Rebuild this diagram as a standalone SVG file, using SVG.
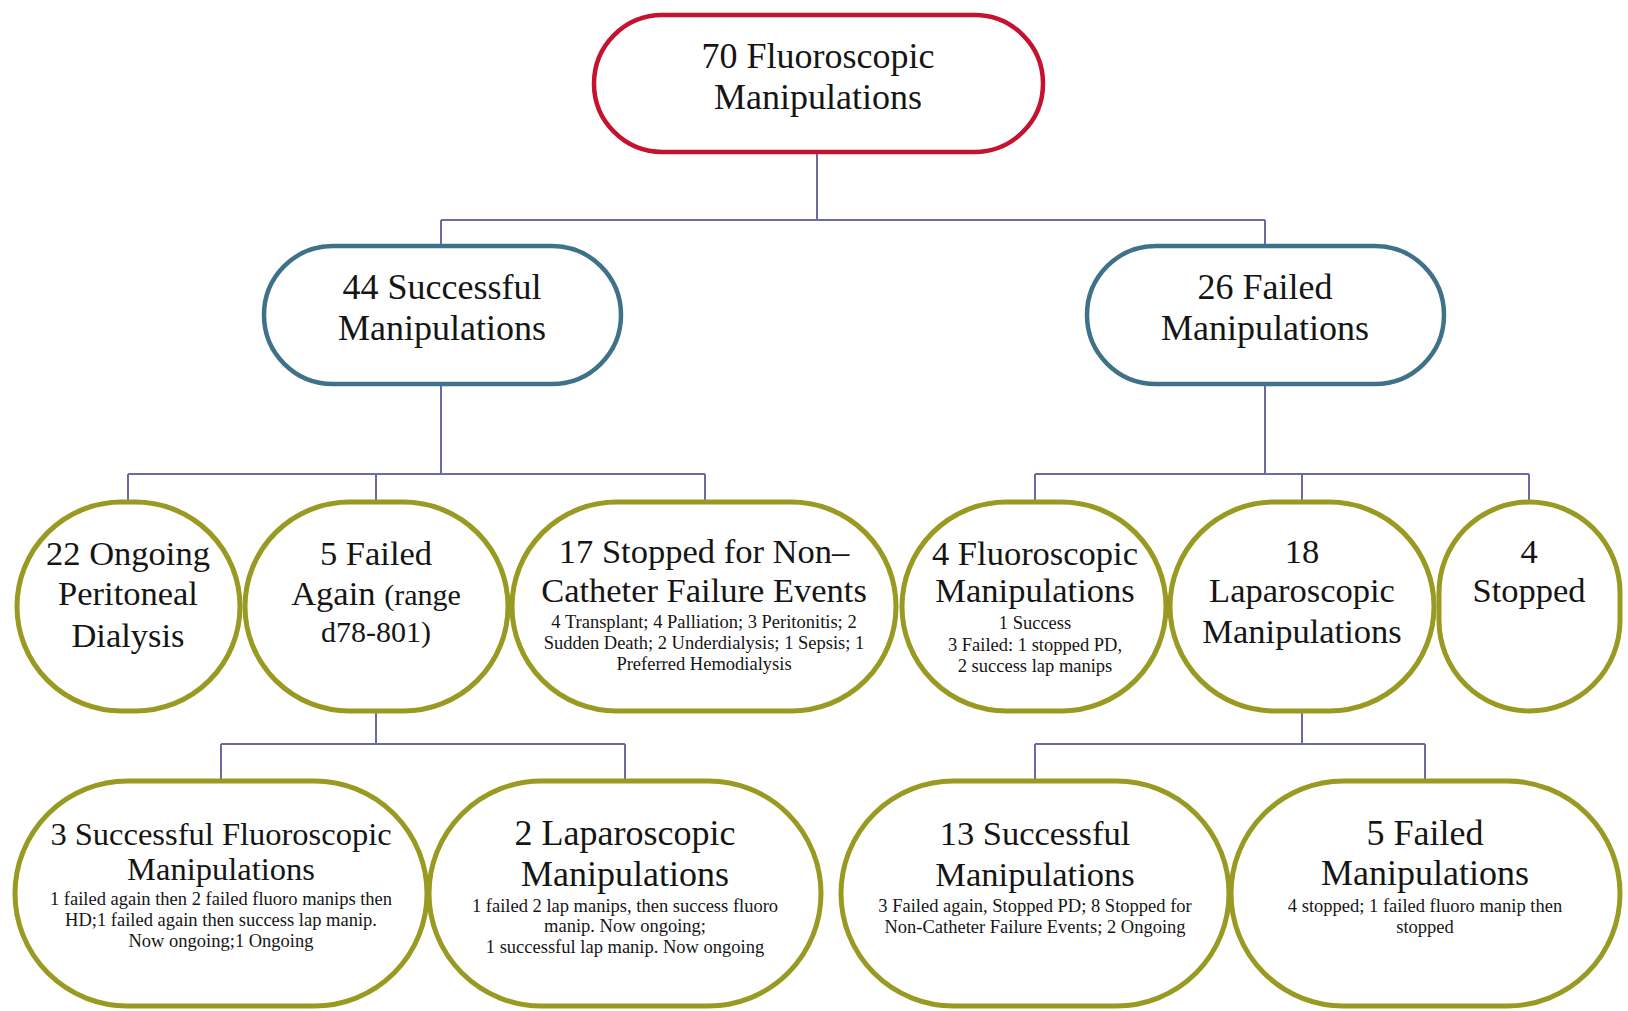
<svg xmlns="http://www.w3.org/2000/svg" width="1628" height="1011" viewBox="0 0 1628 1011">
<style>
.bg{fill:#ffffff}
.n{fill:#ffffff}
.red{stroke:#c4122f;stroke-width:4.5}
.teal{stroke:#3f7288;stroke-width:4.5}
.olive{stroke:#999a22;stroke-width:5}
.c{fill:none;stroke:#6a6aa8;stroke-width:2}
text{font-family:"Liberation Serif","Times New Roman",serif;fill:#151515;text-anchor:middle}
.b{font-size:36px}
.m{font-size:34.5px}
.r{font-size:30px}
.s{font-size:18.5px}
</style>
<rect class="bg" x="0" y="0" width="1628" height="1011"/>
<g id="connectors">
<path class="c" d="M817,154 V220 M441,220 H1265 M441,220 V246 M1265,220 V246"/>
<path class="c" d="M441,386 V474 M128,474 H705 M128,474 V502 M376,474 V502 M705,474 V502"/>
<path class="c" d="M1265,386 V474 M1035,474 H1529 M1035,474 V502 M1302,474 V502 M1529,474 V502"/>
<path class="c" d="M376,711 V744 M221,744 H625 M221,744 V781 M625,744 V781"/>
<path class="c" d="M1302,711 V744 M1035,744 H1425 M1035,744 V781 M1425,744 V781"/>
</g>
<g id="n70">
<rect class="n red" x="594" y="15" width="449" height="137" rx="68.5"/>
<text class="b" x="818" y="68">70 Fluoroscopic</text>
<text class="b" x="818" y="109">Manipulations</text>
</g>
<g id="n44">
<rect class="n teal" x="264" y="246" width="357" height="138" rx="69"/>
<text class="b" x="442" y="299">44 Successful</text>
<text class="b" x="442" y="340">Manipulations</text>
</g>
<g id="n26">
<rect class="n teal" x="1087" y="246" width="357" height="138" rx="69"/>
<text class="b" x="1265" y="299">26 Failed</text>
<text class="b" x="1265" y="340">Manipulations</text>
</g>
<g id="n22">
<rect class="n olive" x="17" y="502" width="223" height="209" rx="104.5"/>
<text class="m" x="128" y="565">22 Ongoing</text>
<text class="m" x="128" y="605">Peritoneal</text>
<text class="m" x="128" y="647">Dialysis</text>
</g>
<g id="n5a">
<rect class="n olive" x="245" y="502" width="263" height="209" rx="104.5"/>
<text class="m" x="376" y="565">5 Failed</text>
<text class="m" x="376" y="605">Again <tspan class="r">(range</tspan></text>
<text class="r" x="376" y="642">d78-801)</text>
</g>
<g id="n17">
<rect class="n olive" x="512" y="502" width="384" height="209" rx="104.5"/>
<text class="m" x="704" y="563">17 Stopped for Non–</text>
<text class="m" x="704" y="602">Catheter Failure Events</text>
<text class="s" x="704" y="628">4 Transplant; 4 Palliation; 3 Peritonitis; 2</text>
<text class="s" x="704" y="649">Sudden Death; 2 Underdialysis; 1 Sepsis; 1</text>
<text class="s" x="704" y="670">Preferred Hemodialysis</text>
</g>
<g id="n4f">
<rect class="n olive" x="902" y="502" width="264" height="209" rx="104.5"/>
<text class="m" x="1035" y="565">4 Fluoroscopic</text>
<text class="m" x="1035" y="602">Manipulations</text>
<text class="s" x="1035" y="629">1 Success</text>
<text class="s" x="1035" y="651">3 Failed: 1 stopped PD,</text>
<text class="s" x="1035" y="672">2 success lap manips</text>
</g>
<g id="n18">
<rect class="n olive" x="1170" y="502" width="264" height="209" rx="104.5"/>
<text class="m" x="1302" y="563">18</text>
<text class="m" x="1302" y="602">Laparoscopic</text>
<text class="m" x="1302" y="643">Manipulations</text>
</g>
<g id="n4s">
<rect class="n olive" x="1439" y="502" width="181" height="209" rx="90.5"/>
<text class="m" x="1529" y="563">4</text>
<text class="m" x="1529" y="602">Stopped</text>
</g>
<g id="n3s">
<rect class="n olive" x="15" y="781" width="412" height="225" rx="112.5"/>
<text x="221" y="845" style="font-size:32.5px">3 Successful Fluoroscopic</text>
<text x="221" y="880" style="font-size:32.5px">Manipulations</text>
<text class="s" x="221" y="905">1 failed again then 2 failed fluoro manips then</text>
<text class="s" x="221" y="926">HD;1 failed again then success lap manip.</text>
<text class="s" x="221" y="947">Now ongoing;1 Ongoing</text>
</g>
<g id="n2l">
<rect class="n olive" x="429" y="781" width="392" height="225" rx="112.5"/>
<text class="b" x="625" y="845">2 Laparoscopic</text>
<text class="b" x="625" y="886">Manipulations</text>
<text class="s" x="625" y="912">1 failed 2 lap manips, then success fluoro</text>
<text class="s" x="625" y="932">manip. Now ongoing;</text>
<text class="s" x="625" y="953">1 successful lap manip. Now ongoing</text>
</g>
<g id="n13">
<rect class="n olive" x="841" y="781" width="388" height="225" rx="112.5"/>
<text class="m" x="1035" y="845">13 Successful</text>
<text class="m" x="1035" y="886">Manipulations</text>
<text class="s" x="1035" y="912">3 Failed again, Stopped PD; 8 Stopped for</text>
<text class="s" x="1035" y="933">Non-Catheter Failure Events; 2 Ongoing</text>
</g>
<g id="n5f">
<rect class="n olive" x="1231" y="781" width="389" height="225" rx="112.5"/>
<text class="b" x="1425" y="845">5 Failed</text>
<text class="b" x="1425" y="885">Manipulations</text>
<text class="s" x="1425" y="912">4 stopped; 1 failed fluoro manip then</text>
<text class="s" x="1425" y="933">stopped</text>
</g>
</svg>
